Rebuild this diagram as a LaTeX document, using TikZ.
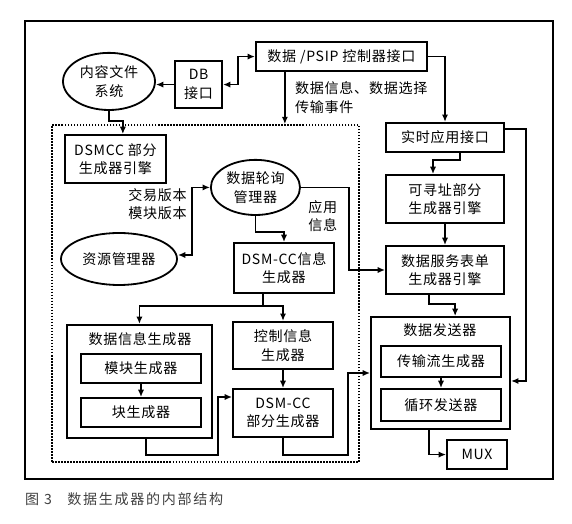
\documentclass[tikz,border=0pt]{standalone}
\usepackage{fontspec}
\setmainfont{Noto Sans CJK SC}[LetterSpace=5]
\usetikzlibrary{arrows.meta,shapes.geometric}

\begin{document}
\begin{tikzpicture}[
  font=\fontsize{14}{18.5}\selectfont,
  bx/.style={draw, rectangle, line width=1.8pt, inner sep=0pt, align=center},
  ov/.style={draw, ellipse, line width=1.8pt, inner sep=0pt, align=center},
  lbl/.style={inner sep=0pt, align=center},
  arr/.style={-{Latex[length=2.6mm,width=2.2mm]}, line width=1.5pt},
  dbl/.style={{Latex[length=2.6mm,width=2.2mm]}-{Latex[length=2.6mm,width=2.2mm]}, line width=1.5pt}
]
\useasboundingbox (0,0) rectangle (20.02,-18.34);
% Rahmen
\node[draw, line width=1.6pt, minimum width=18.48cm, minimum height=16.03cm] (frame) at (10.115,-8.75) {};
\node[draw, line width=1.6pt, dash pattern=on 1.6pt off 1.4pt, minimum width=10.745cm, minimum height=11.795cm] (core) at (7.1925,-10.2725) {};
% oben
\node[bx, minimum width=5.99cm, minimum height=1.02cm] (psip) at (11.95,-1.98) {数据 /PSIP 控制器接口};
\node[bx, minimum width=1.65cm, minimum height=1.65cm] (db) at (6.95,-2.96) {DB\\接口};
\node[ov, minimum width=3.22cm, minimum height=2cm] (fs) at (3.815,-2.85) {内容文件\\系统};
\node[lbl, anchor=west, align=left] (evt) at (10.325,-3.41) {数据信息、数据选择\\传输事件};
% Kern
\node[bx, minimum width=3.54cm, minimum height=1.68cm] (dsmcc) at (4.04,-5.565) {DSMCC 部分\\生成器引擎};
\node[ov, minimum width=3.12cm, minimum height=1.93cm] (poll) at (8.94,-6.56) {数据轮询\\管理器};
\node[ov, minimum width=4.06cm, minimum height=1.82cm] (res) at (4.165,-9.065) {资源管理器};
\node[lbl, anchor=east] (ver) at (6.545,-7.14) {交易版本\\模块版本};
\node[lbl] (app) at (11.3,-7.56) {应用\\信息};
\node[bx, minimum width=3.5cm, minimum height=1.75cm] (info) at (9.94,-9.38) {DSM-CC信息\\生成器};
\node[bx, minimum width=5.08cm, minimum height=3.96cm] (dig) at (4.88,-13.35) {};
\node[lbl] (digt) at (4.9,-11.865) {数据信息生成器};
\node[bx, minimum width=4.2cm, minimum height=1.02cm] (mod) at (4.935,-12.9) {模块生成器};
\node[bx, minimum width=4.2cm, minimum height=1.02cm] (blk) at (4.935,-14.44) {块生成器};
\node[bx, minimum width=3.5cm, minimum height=1.65cm] (ctl) at (9.905,-12.09) {控制信息\\生成器};
\node[bx, minimum width=3.5cm, minimum height=1.68cm] (part) at (9.905,-14.455) {DSM-CC\\部分生成器};
% rechts
\node[bx, minimum width=4.13cm, minimum height=1.02cm] (rt) at (15.575,-4.81) {实时应用接口};
\node[bx, minimum width=4.13cm, minimum height=1.68cm] (addr) at (15.575,-6.965) {可寻址部分\\生成器引擎};
\node[bx, minimum width=4.13cm, minimum height=1.68cm] (svc) at (15.575,-9.45) {数据服务表单\\生成器引擎};
\node[bx, minimum width=4.87cm, minimum height=3.92cm] (snd) at (15.42,-13.055) {};
\node[lbl] (sndt) at (15.4,-11.55) {数据发送器};
\node[bx, minimum width=4.2cm, minimum height=1.085cm] (ts) at (15.435,-12.65) {传输流生成器};
\node[bx, minimum width=4.2cm, minimum height=1.12cm] (loop) at (15.435,-14.175) {循环发送器};
\node[bx, minimum width=2.1cm, minimum height=1.02cm] (mux) at (16.695,-15.91) {MUX};

\node[anchor=west, inner sep=0pt, text=black!75] (cap) at (0.875,-17.465) {\addfontfeatures{LetterSpace=12}图 3\hspace{1.1em}数据生成器的内部结构};

% Verbindungen
\draw[arr] (db.west) -- (db.west -| fs.east);
\draw[dbl] (db.east) -- ++(0.525,0) |- (psip.west);
\draw[arr] (fs.south) -- ++(0,-0.35) -| ([xshift=0.26cm]dsmcc.north);
\draw[arr] ([xshift=-1.98cm]psip.south) -- ([xshift=-1.98cm]psip.south |- core.north);
\draw[arr] (psip.east) -| (rt.north);
\draw[arr] ([yshift=0.3cm]rt.east) -- ++(0.735,0) |- ([yshift=-0.28cm]snd.east);
\draw[arr] ([xshift=0.525cm]rt.south) -- ++(0,-0.245) -| ([xshift=-0.42cm]addr.north);
\draw[arr] (addr) -- (svc);
\draw[arr] ([xshift=-0.56cm]svc.south) -- ++(0,-0.315) -| ([xshift=0.51cm]snd.north);
\draw[arr] (ts) -- (loop);
\draw[arr] ([xshift=-0.4cm]snd.south) |- (mux.west);
\draw[dbl] (poll.west) -- ++(-0.63,0) |- ([yshift=0.14cm]res.east);
\draw[arr] (poll.south) -- ++(0,-0.56) -| (info.north);
\draw[arr] (poll.east) -- ++(1.68,0) |- (svc.west);
\draw[line width=1.5pt] ([xshift=-0.735cm]info.south) -- ++(0,-0.42) coordinate (br);
\draw[arr] (br) -| (dig.north);
\draw[arr] (br) -| (ctl.north);
\draw[arr] (ctl) -- (part);
\draw[arr] (mod) -- (blk);
\draw[arr] ([xshift=0.23cm]dig.south) -- ++(0,-0.56) -| ([xshift=-0.49cm,yshift=0.56cm]part.west) -- ([yshift=0.56cm]part.west);
\draw[arr] (part.south) -- ++(0,-0.6) -| ([xshift=-0.77cm]snd.west) -- (snd.west);
\end{tikzpicture}
\end{document}
